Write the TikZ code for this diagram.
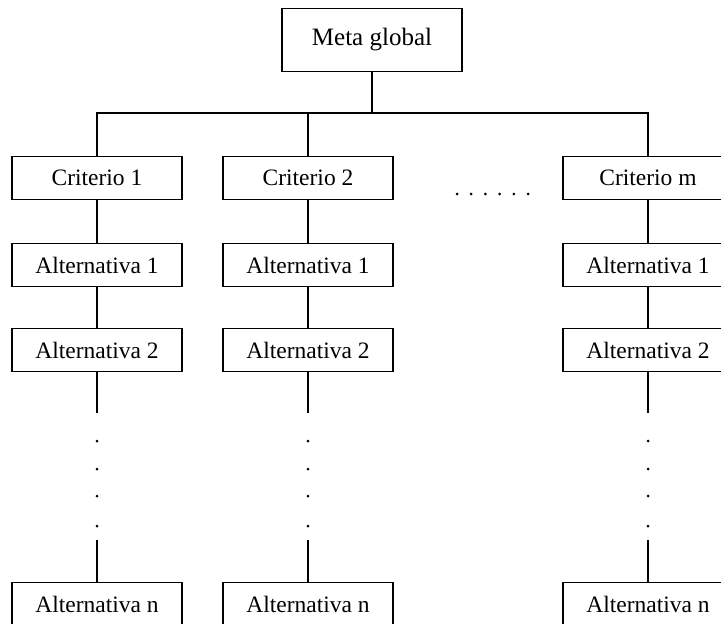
\documentclass[tikz,border=0pt]{standalone}
\usepackage{fontspec}
\setmainfont{Liberation Serif}
\begin{document}
\begin{tikzpicture}[x=1pt,y=-1pt,
  box/.style={draw, line width=1.6pt, minimum width=170pt, minimum height=43pt,
    inner sep=0pt, font=\fontsize{23.5}{27}\selectfont},
  link/.style={line width=1.6pt},
  pt/.style={circle, fill, inner sep=0pt, minimum size=3pt}]
\useasboundingbox (0,0) rectangle (721,624);
\clip (0,0) rectangle (721,624);

% top goal
\node[box, minimum width=180pt, minimum height=63pt, font=\fontsize{25}{29}\selectfont]
  (goal) at (372,40) {Meta global};
\coordinate (bus) at (372,113);

% one column per criterion
\foreach \i/\x/\lab in {1/97/Criterio 1, 2/308/Criterio 2, 3/648/Criterio m}{
  \node[box] (c\i) at (\x,178) {\lab};
  \node[box] (a\i) at (\x,265) {Alternativa 1};
  \node[box] (b\i) at (\x,350) {Alternativa 2};
  \node[box] (n\i) at (\x,604) {Alternativa n};
  \coordinate (g\i) at (\x,413);
  \coordinate (h\i) at (\x,540);
  \draw[link] (c\i) -- (a\i);
  \draw[link] (a\i) -- (b\i);
  \draw[link] (b\i) -- (g\i);
  \draw[link] (h\i) -- (n\i);
  \foreach \y in {441,469,496,526}
    \node[pt] (d\i-\y) at (\x,\y) {};
}

% goal to criteria
\draw[link] (goal) -- (bus);
\draw[link] (c1.north) -- (c1.north |- bus) -- (c3.north |- bus) -- (c3.north);
\draw[link] (c2.north) -- (c2.north |- bus);

% horizontal ellipsis between criteria
\foreach \k in {0,...,5}
  \node[pt] (e\k) at (457+14.2*\k,194) {};
\end{tikzpicture}
\end{document}
